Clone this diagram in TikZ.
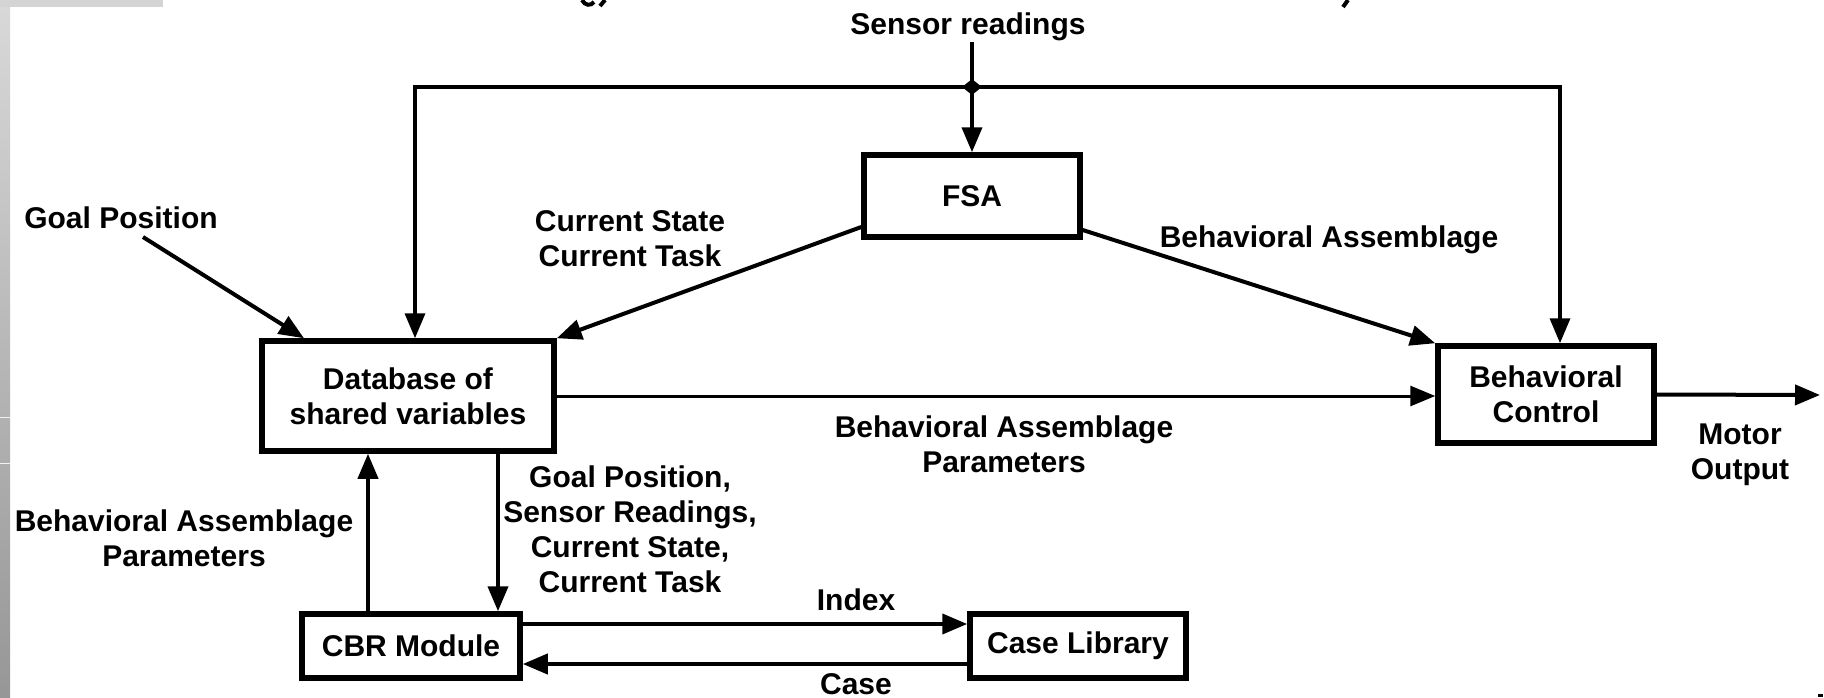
\documentclass[tikz,border=0pt]{standalone}
\usepackage{fontspec}
\setmainfont{Liberation Sans}
\usetikzlibrary{arrows.meta,shapes.geometric}
\begin{document}
\begin{tikzpicture}[x=1pt,y=-1pt,
  lbl/.style={font=\bfseries\fontsize{30}{35}\selectfont, inner sep=0pt, align=center},
  block/.style={lbl, draw, line width=5.5pt},
  link/.style={line width=4pt, -{Triangle[length=25pt,width=20pt]}},
  wire/.style={line width=4pt}]
\useasboundingbox (0,0) rectangle (1824,697);

% slide frame
\shade[top color=black!15, bottom color=black!41] (0,0) rectangle (10,697);
\fill[black!17] (0,0) rectangle (163,7);
\draw[black!5, line width=1pt] (0,417) -- (10,417) (0,463) -- (10,463);

% clipped title remnants and corner mark
\draw[line width=4pt] (582,0) .. controls (585,6) and (591,6) .. (594,2);
\draw[line width=4pt] (605,0) -- (600,6);
\draw[line width=4pt] (1348,0) -- (1343,7);
\fill (1818,694) rectangle (1823,697);

% blocks
\node[block, minimum width=216pt, minimum height=82pt] (fsa) at (972,196) {FSA};
\node[block, minimum width=292pt, minimum height=110pt] (db) at (408,396) {Database of\\shared variables};
\node[block, minimum width=216pt, minimum height=97pt] (bc) at (1546,394.5) {Behavioral\\Control};
\node[block, minimum width=218pt, minimum height=64pt] (cbr) at (411,646) {CBR Module};
\node[block, minimum width=216pt, minimum height=64pt] (lib) at (1078,646) {Case Library};

% sensor readings and their distribution
\node[lbl, anchor=base] (sensor) at (968,34) {Sensor readings};
\coordinate (sTop) at (972,42);
\node[diamond, fill, inner sep=0pt, minimum width=20pt, minimum height=16pt] (junc) at (972,87) {};
\draw[wire] (sTop) -- (junc.center);
\draw[link] (junc.center) -- (fsa.north);
\draw[link, line width=3.5pt] (junc.center) -| ([xshift=7pt]db.north);
\draw[link, line width=3.5pt] (junc.center) -| ([xshift=14pt]bc.north);

% goal position input
\node[lbl, anchor=base] (goal) at (121,228) {Goal Position};
\coordinate (gStart) at (143,237);
\draw[link] (gStart) -- ([xshift=-104pt]db.north);

% FSA outputs (multi-line labels sit on the baseline of their last line)
\draw[link] ([yshift=-31pt]fsa.west) -- (db.north east);
\node[lbl, anchor=base] (cs) at (630,266) {Current State\\Current Task};
\draw[link] ([yshift=-34pt]fsa.east) -- (bc.north west);
\node[lbl, anchor=base] (ba) at (1329,247) {Behavioral Assemblage};

% database to behavioral control
\draw[link, line width=3pt] (db.east) -- (db.east -| bc.west);
\node[lbl, anchor=base] (bap) at (1004,472) {Behavioral Assemblage\\Parameters};

% motor output
\coordinate (mOut) at (1820,395);
\draw[link] (bc.east) -- (mOut);
\node[lbl, anchor=base] (motor) at (1740,479) {Motor\\Output};

% database and CBR module
\draw[link] ([xshift=90pt]db.south) coordinate (dq) -- (dq |- cbr.north);
\draw[link] ([xshift=-43pt]cbr.north) coordinate (cu) -- (cu |- db.south);
\node[lbl, anchor=base] (query) at (630,592) {Goal Position,\\Sensor Readings,\\Current State,\\Current Task};
\node[lbl, anchor=base] (bapl) at (184,566) {Behavioral Assemblage\\Parameters};

% CBR module and case library
\draw[link] ([yshift=22pt]cbr.east) coordinate (ix) -- (ix -| lib.west);
\draw[link] ([yshift=-18pt]lib.west) coordinate (cs0) -- (cs0 -| cbr.east);
\node[lbl, anchor=base] (index) at (856,610) {Index};
\node[lbl, anchor=base] (case) at (856,694) {Case};
\end{tikzpicture}
\end{document}
